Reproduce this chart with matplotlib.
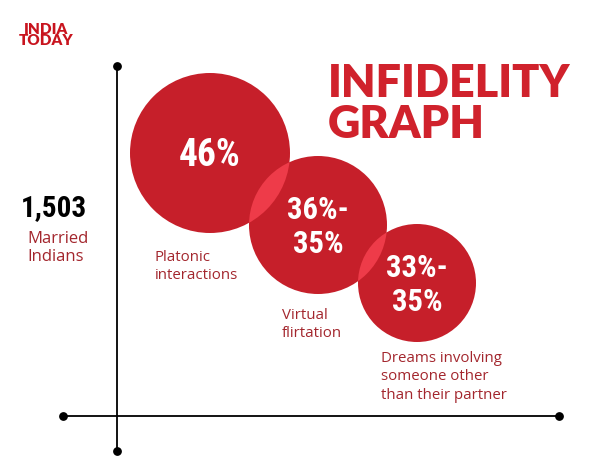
import os
import matplotlib
matplotlib.use("Agg")
import matplotlib.pyplot as plt
from matplotlib import font_manager as fm
from matplotlib.patches import Circle

# chart content
categories = ["Platonic\ninteractions", "Virtual\nflirtation",
              "Dreams involving\nsomeone other\nthan their partner"]
value_labels = ["46%", "36%-\n35%", "33%-\n35%"]
sample_size = "1,503"
sample_label = "Married\nIndians"
title = "INFIDELITY\nGRAPH"

# layout (pixel coords, y down)
centers = [(210, 153), (318, 225), (417, 283)]
radii = [80, 69, 59]
cat_pos = [(155, 250), (282, 308), (381, 351)]

RED = "#c61f2a"
LENS = "#ee3b49"
TXT_RED = "#a3262d"
TITLE_RED = "#d0222c"


def pick_font(names, fallback):
    # look for a font file by name among the installed ones
    files = {os.path.basename(f.fname).lower(): f.fname for f in fm.fontManager.ttflist}
    for n in names:
        if n.lower() in files:
            return fm.FontProperties(fname=files[n.lower()])
    return fm.FontProperties(family=fallback, weight="bold")


num_font = pick_font(["NotoSans-ExtraCondensedBold.ttf", "NotoSans-CondensedBold.ttf",
                      "RobotoCondensed-Bold.ttf", "LiberationSansNarrow-Bold.ttf",
                      "DejaVuSansCondensed-Bold.ttf"], "DejaVu Sans")
heavy_font = pick_font(["Lato-Black.ttf", "NotoSans-Black.ttf", "Roboto-Black.ttf",
                        "OpenSans-ExtraBold.ttf", "Lato-Heavy.ttf"], "Lato")

fig = plt.figure(figsize=(6.02, 4.76), dpi=100)
ax = fig.add_axes([0, 0, 1, 1])
ax.set_xlim(0, 602)
ax.set_ylim(476, 0)
ax.axis("off")

# axis lines with end dots
ax.plot([117, 117], [66, 451], color="black", lw=1.3, zorder=1)
ax.plot([63, 559], [416, 416], color="black", lw=1.3, zorder=1)
ax.scatter([117, 117, 63, 559], [66, 451, 416, 416], s=28, color="black", zorder=1)

# bubbles
circles = []
for (cx, cy), r in zip(centers, radii):
    c = Circle((cx, cy), r, facecolor=RED, edgecolor="none", zorder=2)
    ax.add_patch(c)
    circles.append(c)

# lighter overlap lenses
for i in range(len(circles) - 1):
    (cx, cy), r = centers[i + 1], radii[i + 1]
    lens = Circle((cx, cy), r, facecolor=LENS, edgecolor="none", zorder=3)
    ax.add_patch(lens)
    lens.set_clip_path(circles[i])

for (cx, cy), lab in zip(centers, value_labels):
    ax.text(cx, cy + 2, lab, color="white", fontproperties=num_font,
            fontsize=27 if "\n" not in lab else 22,
            ha="center", va="center", linespacing=1.2, zorder=4)

for (x, y), lab in zip(cat_pos, categories):
    ax.text(x, y, lab, color=TXT_RED, fontsize=10.8, family="Open Sans",
            ha="left", va="top", linespacing=1.3, zorder=4)

ax.text(21, 208, sample_size, color="black", fontproperties=num_font, fontsize=21,
        ha="left", va="center")
ax.text(27, 231, sample_label, color=TXT_RED, fontsize=12, family="Open Sans",
        ha="left", va="top", linespacing=1.15)

ax.text(328, 104, title, color=TITLE_RED, fontproperties=heavy_font, fontsize=32.3,
        ha="left", va="center", linespacing=1.0)

ax.text(19, 35, "INDIA\nTODAY", color="#c8141e", fontproperties=heavy_font, fontsize=11,
        ha="left", va="center", linespacing=0.9, multialignment="center")

fig.savefig("out.png", dpi=100)
